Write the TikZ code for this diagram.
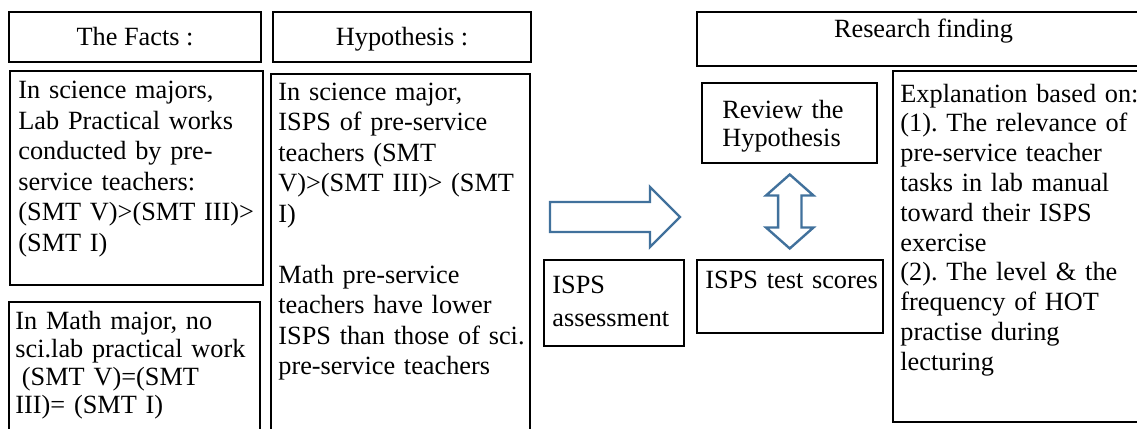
\documentclass[tikz,border=0pt]{standalone}
\usepackage{fontspec}
\setmainfont{Liberation Serif}
\usetikzlibrary{positioning,shapes.arrows,calc}
\definecolor{arrowblue}{RGB}{65,113,156}
\frenchspacing

\begin{document}
\begin{tikzpicture}[x=0.5pt,y=-0.5pt,
	font=\fontsize{13.15pt}{15.25pt}\selectfont,
	thinbox/.style={draw,line width=0.6pt,inner sep=0pt,outer sep=0pt,anchor=north west},
	thickbox/.style={draw,line width=1.4pt,inner sep=0pt,outer sep=0pt,anchor=north west},
	txt/.style={inner sep=0pt,anchor=base west,align=left,text width=150pt,font=\fontsize{13.15pt}{#1}\selectfont},
	txt/.default=15.25pt,
	blockarrow/.style={draw=arrowblue,line width=1.2pt,fill=white,line join=miter}]
	\useasboundingbox (0,0) rectangle (1137,429);
	\clip (0,0) rectangle (1137,429);

	\node[thinbox,minimum width=126pt,minimum height=25pt,text height=10pt,text depth=2pt] (factshead) at (9,12) {The Facts :};
	\node[thinbox,minimum width=129pt,minimum height=25pt,text height=10pt,text depth=2pt] (hyphead) at (273,12) {Hypothesis :};

	\node[thickbox,minimum width=126.5pt,minimum height=107pt] (facts) at (10,71) {};
	\node[txt] (factstxt) at ([shift={(8,27.5)}]facts.north west)
		{In science majors,\\Lab Practical works\\conducted by pre-\\service teachers:\\(SMT V)>(SMT III)>\\(SMT I)};

	\node[thickbox,minimum width=125.5pt,minimum height=75pt] (math) at (9,302) {};
	\node[txt=14.15pt] (mathtxt) at ([shift={(6,27)}]math.north west)
		{In Math major, no\\sci.lab practical work\\\hspace*{0.25em}(SMT V)=(SMT\\III)= (SMT I)};

	\node[thickbox,minimum width=129.5pt,minimum height=190pt] (hyp) at (271,74) {};
	\node[txt] (hyptxt) at ([shift={(7,26)}]hyp.north west)
		{In science major,\\ISPS of pre-service\\teachers (SMT\\V)>(SMT III)> (SMT\\I)\\[15.25pt]Math pre-service\\teachers have lower\\ISPS than those of sci.\\pre-service teachers};

	\draw[blockarrow] (550,202) -- (650,202) -- (650,187) -- (680,217) -- (650,247) -- (650,232) -- (550,232) -- cycle;

	\node[thinbox,minimum width=70pt,minimum height=43pt] (assess) at (544,260) {};
	\node[txt=16.5pt] (assesstxt) at ([shift={(8,33)}]assess.north west) {ISPS\\assessment};

	\node[thickbox,minimum width=226.5pt,minimum height=27pt,text height=4pt,text depth=6pt] (research) at (697,12) {Research finding};

	\node[thinbox,minimum width=87.5pt,minimum height=40pt] (review) at (702,83) {};
	\node[txt=14pt] (reviewtxt) at ([shift={(20,35)}]review.north west) {Review the\\Hypothesis};

	\node[thickbox,minimum width=93pt,minimum height=36.5pt] (scores) at (697,260) {};
	\node[txt] (scorestxt) at ([shift={(8,28)}]scores.north west) {ISPS test scores};

	\node[double arrow,draw=arrowblue,line width=1.2pt,fill=white,rotate=90,minimum height=37pt,
		inner xsep=0pt,inner ysep=5.25pt,double arrow head extend=6pt,double arrow tip angle=97,
		double arrow head indent=0pt] (link) at ($(review.south)!0.5!(scores.north)$) {};

	\node[thickbox,minimum width=130pt,minimum height=175.5pt] (expl) at (893,71) {};
	\node[txt=14.9pt] (expltxt) at ([shift={(7,31)}]expl.north west)
		{Explanation based on:\\(1). The relevance of\\pre-service teacher\\tasks in lab manual\\toward their ISPS\\exercise\\(2). The level \& the\\frequency of HOT\\practise during\\lecturing};
\end{tikzpicture}
\end{document}
